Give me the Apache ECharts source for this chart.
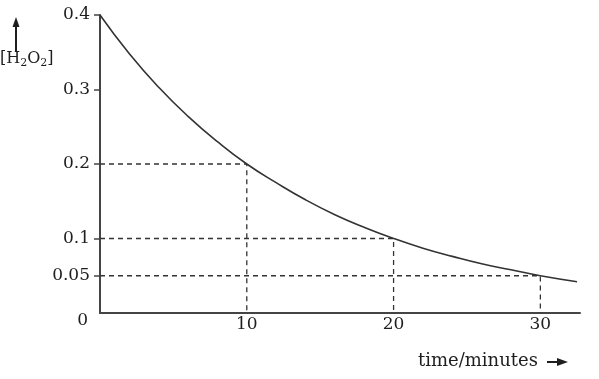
<!DOCTYPE html>
<html><head><meta charset="utf-8">
<script src="https://cdn.jsdelivr.net/npm/echarts@6/dist/echarts.min.js"></script>
<style>html,body{margin:0;padding:0;background:#fff}#c{width:599px;height:379px}</style>
</head><body><div id="c"></div>
<script>
// Curve: time (minutes) vs [H2O2]
const times = [0, 2, 4, 6, 8, 10, 12, 14, 16, 18, 20, 22, 24, 26, 28, 30, 32.5];
const conc  = [0.4, 0.348, 0.303, 0.264, 0.23, 0.2, 0.175, 0.152, 0.132, 0.115, 0.1, 0.087, 0.076, 0.066, 0.058, 0.05, 0.042];
// Dashed guide points (time, concentration)
const guideTimes = [10, 20, 30];
const guideConc  = [0.2, 0.1, 0.05];
const yTickValues = [0, 0.05, 0.1, 0.2, 0.3, 0.4];
const xTickValues = [10, 20, 30];

const font = '"DejaVu Serif", "Liberation Serif", serif';
const ink = '#333';
const txt = '#1e1e1e';
const guideSeries = guideTimes.map((t, i) => ({
  type: 'line', data: [[0, guideConc[i]], [t, guideConc[i]], [t, 0]],
  symbol: 'none', silent: true,
  lineStyle: {color: ink, width: 1.3, type: [5, 4]}
}));

const chart = echarts.init(document.getElementById('c'));
chart.setOption({
  animation: false,
  grid: {left: 100, top: 15, right: 19, bottom: 66},
  xAxis: {
    type: 'value', min: 0, max: 32.7,
    axisLine: {lineStyle: {color: '#444', width: 2}},
    axisTick: {show: false},
    splitLine: {show: false},
    axisLabel: {customValues: xTickValues, color: txt, fontFamily: font, fontSize: 17, margin: 3}
  },
  yAxis: {
    type: 'value', min: 0, max: 0.4,
    axisLine: {show: true, lineStyle: {color: '#444', width: 2}},
    axisTick: {show: true, customValues: [0.05, 0.1, 0.2, 0.3, 0.4], length: 6, lineStyle: {color: '#444', width: 1.5}},
    splitLine: {show: false},
    axisLabel: {
      customValues: yTickValues, color: txt, fontFamily: font, fontSize: 17, margin: 10,
      formatter: v => v === 0 ? '{z|0}' : String(v),
      rich: {z: {fontFamily: font, fontSize: 17, color: txt, padding: [16, 2, 0, 0]}}
    }
  },
  series: [{
    type: 'line', data: times.map((t, i) => [t, conc[i]]),
    smooth: 0.5, symbol: 'none', lineStyle: {color: ink, width: 1.6}
  }].concat(guideSeries),
  graphic: [
    {type: 'line', shape: {x1: 16, y1: 52, x2: 16, y2: 24}, style: {stroke: txt, lineWidth: 2}},
    {type: 'polygon', shape: {points: [[16, 17], [12.5, 27], [19.5, 27]]}, style: {fill: txt}},
    {type: 'text', left: 0, top: 51, style: {
      text: '[H{s|2}O{s|2}]', font: '16px ' + font, fill: txt,
      rich: {s: {fontSize: 11, fontFamily: font, padding: [9, 0, 0, 0], fill: txt}}
    }},
    {type: 'text', left: 418, top: 352, style: {text: 'time/minutes', font: '18px ' + font, fill: txt}},
    {type: 'line', shape: {x1: 547, y1: 362, x2: 560, y2: 362}, style: {stroke: txt, lineWidth: 2}},
    {type: 'polygon', shape: {points: [[568, 362], [557, 358], [557, 366]]}, style: {fill: txt}}
  ]
});
</script></body></html>
